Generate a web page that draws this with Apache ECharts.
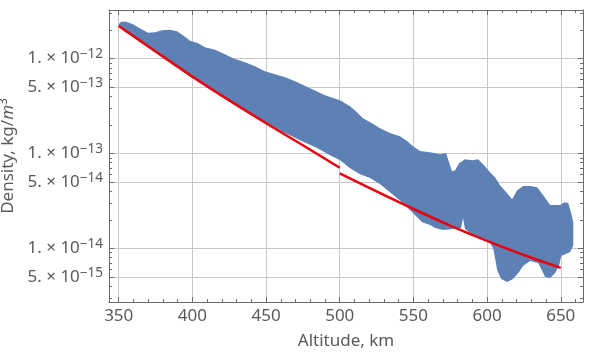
<!DOCTYPE html>
<html>
<head>
<meta charset="utf-8">
<script src="https://cdn.jsdelivr.net/npm/echarts@6/dist/echarts.min.js"></script>
<style>
  html, body { margin: 0; background: #fff; }
  #chart { width: 590px; height: 358px; }
</style>
</head>
<body>
<div id="chart"></div>
<script>
// red model curve, two pieces with a jump at 500 km
const modelAltLow = [350, 375, 400, 425, 450, 475, 500];
const modelDensLow = [2.21e-12, 1.19e-12, 6.46e-13, 3.63e-13, 2.09e-13, 1.22e-13, 7.08e-14];
const modelAltHigh = [500, 525, 550, 575, 600, 625, 650];
const modelDensHigh = [6.17e-14, 3.98e-14, 2.60e-14, 1.74e-14, 1.20e-14, 8.51e-15, 6.24e-15];

// outline of the measured point cloud: top edge left->right, then bottom edge right->left
const cloudTopAlt = [350, 351.6, 355, 359.7, 364.5, 369.9, 374.6, 379.4, 384.8, 389.6, 393.6, 398.4,
  403.8, 408.6, 415.4, 422.1, 427.6, 435.7, 442.5, 449.3, 456.1, 462.9, 469.7, 479.9, 490, 500.2,
  507, 511.7, 515.8, 521.9, 527.4, 534.1, 540.9, 545.7, 549.7, 554.5, 561.3, 568.1, 572.2, 574.2,
  576.2, 578.3, 581, 585, 589.8, 593.9, 598, 602, 605.4, 608.8, 613.6, 617, 620.4, 624.5, 629.3,
  634, 638.1, 642.8, 649.6, 652.4, 655.1, 657.1, 658.5, 658.5];
const cloudTopDens = [2.30e-12, 2.44e-12, 2.44e-12, 2.30e-12, 2.08e-12, 1.87e-12, 1.89e-12, 1.99e-12,
  2.01e-12, 1.94e-12, 1.76e-12, 1.54e-12, 1.45e-12, 1.32e-12, 1.24e-12, 1.11e-12, 1.01e-12, 9.14e-13,
  8.30e-13, 7.35e-13, 6.84e-13, 6.36e-13, 5.77e-13, 4.87e-13, 4.11e-13, 3.64e-13, 3.15e-13, 2.72e-13,
  2.35e-13, 2.08e-13, 1.85e-13, 1.64e-13, 1.52e-13, 1.35e-13, 1.19e-13, 1.06e-13, 1.03e-13, 9.83e-14,
  1.01e-13, 8.10e-14, 6.51e-14, 6.67e-14, 7.90e-14, 8.71e-14, 8.50e-14, 8.71e-14, 7.53e-14, 6.36e-14,
  5.63e-14, 4.64e-14, 3.82e-14, 3.30e-14, 4.11e-14, 4.53e-14, 4.53e-14, 4.42e-14, 3.64e-14, 2.86e-14,
  2.86e-14, 3.07e-14, 3.00e-14, 2.35e-14, 1.89e-14, 1.08e-14];
const cloudBottomAlt = [656.4, 650.3, 649, 646.2, 642.8, 639.4, 637.4, 634.6, 629.2, 624.4, 621.7,
  617.6, 613.6, 609.5, 606.8, 605.4, 604.1, 600.7, 595.2, 588.4, 585, 583.7, 582.3, 576.9, 570.1,
  564.7, 561.3, 555.9, 549.8, 543, 534.1, 527.4, 520.6, 513.8, 507, 500.2, 493.4, 484.6, 473, 461.5,
  452.7, 425, 400, 375, 350];
const cloudBottomDens = [9.14e-15, 8.30e-15, 6.67e-15, 5.50e-15, 4.87e-15, 4.99e-15, 5.77e-15, 7.00e-15,
  7.35e-15, 6.51e-15, 5.63e-15, 4.75e-15, 4.42e-15, 4.75e-15, 5.91e-15, 7.90e-15, 1.01e-14, 1.22e-14,
  1.32e-14, 1.45e-14, 1.60e-14, 2.08e-14, 1.64e-14, 1.60e-14, 1.56e-14, 1.64e-14, 1.76e-14, 1.89e-14,
  2.35e-14, 3.00e-14, 3.91e-14, 4.75e-14, 5.50e-14, 6.05e-14, 7.00e-14, 8.50e-14, 9.60e-14, 1.14e-13,
  1.38e-13, 1.68e-13, 2.03e-13, 3.63e-13, 6.46e-13, 1.19e-12, 2.21e-12];

const xTicks = [350, 400, 450, 500, 550, 600, 650];
const yTicks = [1e-12, 5e-13, 1e-13, 5e-14, 1e-14, 5e-15];
const yTickLabels = [['1.', '\u221212'], ['5.', '\u221213'], ['1.', '\u221213'], ['5.', '\u221214'], ['1.', '\u221214'], ['5.', '\u221215']];

const xMin = 343.4, xMax = 665.1;
const yMin = -14.565, yMax = -11.488;   // log10 of density

const font = 'Noto Sans';
const frameColor = '#6b6b6b';
const textColor = '#5a5a5a';

const lg = Math.log10;
const pairs = (xs, ys) => xs.map((x, i) => [x, lg(ys[i])]);

const cloudOutline = pairs(cloudTopAlt, cloudTopDens).concat(pairs(cloudBottomAlt, cloudBottomDens));

const xMinor = [];
for (let v = 340; v <= 660; v += 10) {
  if (v > xMin && v < xMax && v % 50 !== 0) xMinor.push(v);
}
const yMajor = yTicks.map(lg);
const yMinor = [];
for (let e = -15; e <= -12; e++) {
  [2, 3, 4, 6, 7, 8, 9].forEach(m => {
    const v = lg(m) + e;
    if (v > yMin && v < yMax) yMinor.push(v);
  });
}

function frameAxis(position, min, max, ticks, len, extra) {
  return Object.assign({
    type: 'value',
    position: position,
    min: min,
    max: max,
    axisLine: { show: true, onZero: false, lineStyle: { color: frameColor, width: 1 } },
    axisTick: { show: true, inside: true, length: len, customValues: ticks, lineStyle: { color: frameColor } },
    axisLabel: { show: false },
    splitLine: { show: false }
  }, extra);
}

const gridLine = { show: true, lineStyle: { color: '#c8c8c8', width: 1 } };

let chart = echarts.init(document.getElementById('chart'));
chart.setOption({
  animation: false,
  grid: { left: 109, right: 7, top: 10, bottom: 56, outerBoundsMode: 'none' },
  xAxis: [
    frameAxis('bottom', xMin, xMax, xTicks, 5, {
      name: 'Altitude, km',
      nameLocation: 'middle',
      nameGap: 31,
      nameTextStyle: { fontFamily: font, fontSize: 17, color: textColor },
      axisLabel: { show: true, customValues: xTicks, margin: 6, fontFamily: font, fontSize: 17, color: textColor },
      splitLine: gridLine
    }),
    frameAxis('bottom', xMin, xMax, xMinor, 3, { axisLine: { show: false, onZero: false } }),
    frameAxis('top', xMin, xMax, xTicks, 5),
    frameAxis('top', xMin, xMax, xMinor, 3, { axisLine: { show: false, onZero: false } })
  ],
  yAxis: [
    frameAxis('left', yMin, yMax, yMajor, 5, {
      name: '{t|Density, kg/}{i|m}{s|3}',
      nameLocation: 'middle',
      nameGap: 84,
      nameTextStyle: {
        fontFamily: font, fontSize: 17, color: textColor,
        rich: {
          t: { fontFamily: font, fontSize: 17, color: textColor, lineHeight: 22 },
          i: { fontFamily: font, fontSize: 17, color: textColor, fontStyle: 'italic', lineHeight: 22 },
          s: { fontFamily: font, fontSize: 12, color: textColor, verticalAlign: 'top', lineHeight: 14 }
        }
      },
      axisLabel: {
        show: true,
        customValues: yMajor,
        margin: 6,
        formatter: function (value) {
          const i = yMajor.findIndex(v => Math.abs(v - value) < 1e-6);
          if (i < 0) return '';
          return '{b|' + yTickLabels[i][0] + ' \u00d7 10}{s|' + yTickLabels[i][1] + '}';
        },
        rich: {
          b: { fontFamily: font, fontSize: 17, color: textColor, lineHeight: 22 },
          s: { fontFamily: font, fontSize: 13.5, color: textColor, verticalAlign: 'top', lineHeight: 14 }
        }
      },
      splitLine: gridLine
    }),
    frameAxis('left', yMin, yMax, yMinor, 3, { axisLine: { show: false, onZero: false } }),
    frameAxis('right', yMin, yMax, yMajor, 5),
    frameAxis('right', yMin, yMax, yMinor, 3, { axisLine: { show: false, onZero: false } })
  ],
  series: [
    {
      type: 'custom',
      xAxisIndex: 0,
      yAxisIndex: 0,
      data: [cloudOutline[0]],
      silent: true,
      renderItem: function (params, api) {
        return {
          type: 'polygon',
          shape: { points: cloudOutline.map(p => api.coord(p)) },
          style: { fill: '#5e81b5' }
        };
      }
    },
    {
      type: 'line',
      xAxisIndex: 0,
      yAxisIndex: 0,
      data: pairs(modelAltLow, modelDensLow),
      smooth: 0.3,
      showSymbol: false,
      lineStyle: { color: '#e8000b', width: 2.5 }
    },
    {
      type: 'line',
      xAxisIndex: 0,
      yAxisIndex: 0,
      data: pairs(modelAltHigh, modelDensHigh),
      smooth: 0.3,
      showSymbol: false,
      lineStyle: { color: '#e8000b', width: 2.5 }
    }
  ]
});
</script>
</body>
</html>
